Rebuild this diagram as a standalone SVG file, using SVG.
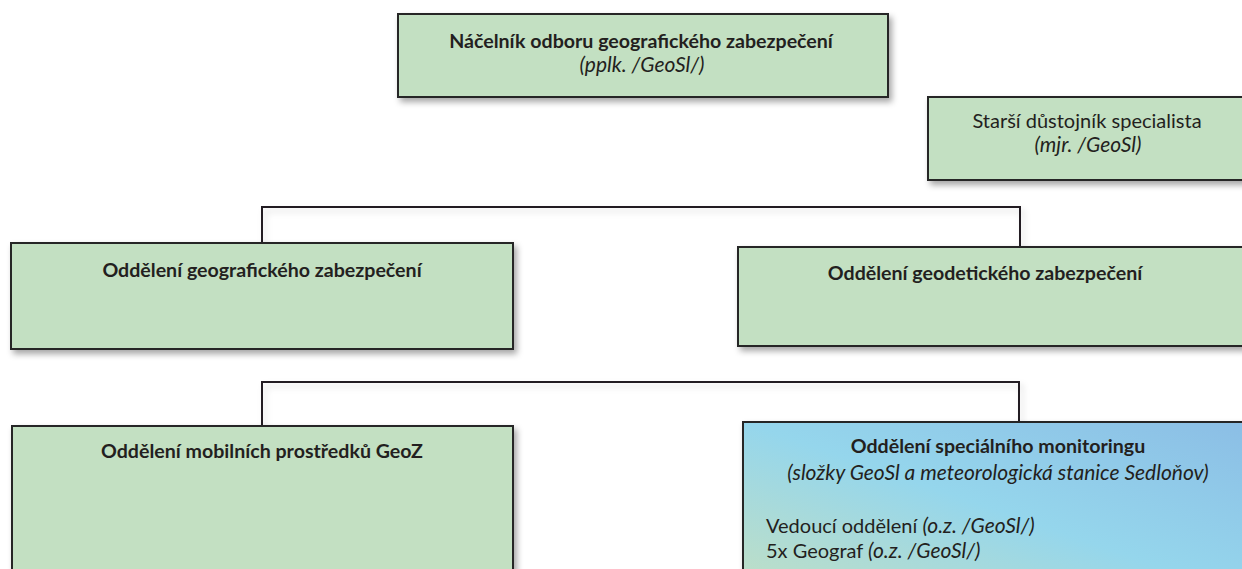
<svg xmlns="http://www.w3.org/2000/svg" width="1242" height="569" viewBox="0 0 1242 569">
  <defs>
    <filter id="shadow" x="-10%" y="-10%" width="130%" height="140%">
      <feDropShadow dx="3" dy="4" stdDeviation="3" flood-color="#000" flood-opacity="0.35"/>
    </filter>
    <filter id="lineShadow" x="-10%" y="-10%" width="130%" height="140%">
      <feDropShadow dx="3" dy="4" stdDeviation="3" flood-color="#000" flood-opacity="0.15"/>
    </filter>
    <linearGradient id="monitorFill" x1="0" y1="1" x2="1" y2="0">
      <stop offset="0" stop-color="#c3e0c2"/>
      <stop offset="0.5" stop-color="#95d6ec"/>
      <stop offset="1" stop-color="#8bbde5"/>
    </linearGradient>
  </defs>
  <style>
    .box { fill: #c3e0c2; stroke: #262626; stroke-width: 2; filter: url(#shadow); }
    .blue { fill: url(#monitorFill); }
    .conn { fill: none; stroke: #231f20; stroke-width: 2; filter: url(#lineShadow); }
    text { font-family: Lato, "Open Sans", "DejaVu Sans", sans-serif; font-size: 20px; fill: #231f20; }
    .b { font-weight: bold; font-size: 19.6px; }
    .i { font-style: italic; font-size: 21px; }
    .c { text-anchor: middle; }
  </style>
  <rect width="1242" height="569" fill="#ffffff"/>

  <!-- connectors -->
  <g id="connectors">
    <path class="conn" d="M636 96 V382"/>
    <path class="conn" d="M636 140 H928"/>
    <path class="conn" d="M262 243 V207 H1020 V247"/>
    <path class="conn" d="M262 426 V382 H1019 V422"/>
  </g>

  <g id="head">
    <rect class="box" x="398" y="14" width="490" height="83"/>
    <text class="b c" x="641" y="48">Náčelník odboru geografického zabezpečení</text>
    <text class="i c" x="642" y="72">(pplk. /GeoSl/)</text>
  </g>

  <g id="specialist">
    <rect class="box" x="928" y="97" width="330" height="83"/>
    <text class="c" x="1087" y="128">Starší důstojník specialista</text>
    <text class="i c" x="1088" y="152">(mjr. /GeoSl)</text>
  </g>

  <g id="geography">
    <rect class="box" x="11" y="243" width="502" height="106"/>
    <text class="b c" x="262" y="277">Oddělení geografického zabezpečení</text>
  </g>

  <g id="geodesy">
    <rect class="box" x="738" y="247" width="520" height="99"/>
    <text class="b c" x="985" y="280">Oddělení geodetického zabezpečení</text>
  </g>

  <g id="mobile">
    <rect class="box" x="12" y="426" width="501" height="180"/>
    <text class="b c" x="262" y="458">Oddělení mobilních prostředků GeoZ</text>
  </g>

  <g id="monitoring">
    <rect class="box blue" x="743" y="422" width="520" height="180"/>
    <text class="b c" x="998" y="453">Oddělení speciálního monitoringu</text>
    <text class="i c" x="998" y="480">(složky GeoSl a meteorologická stanice Sedloňov)</text>
    <text x="766" y="533">Vedoucí oddělení <tspan class="i">(o.z. /GeoSl/)</tspan></text>
    <text x="766" y="558">5x Geograf <tspan class="i">(o.z. /GeoSl/)</tspan></text>
  </g>
</svg>
